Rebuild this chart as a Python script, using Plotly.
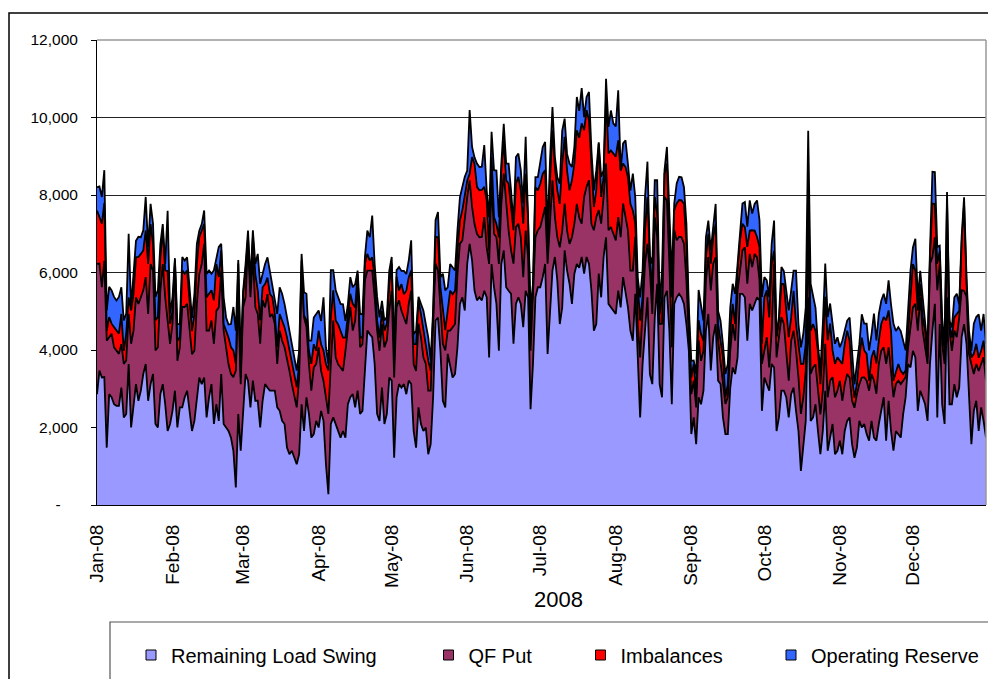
import pandas as pd
import plotly.graph_objects as go

dates = pd.date_range("2008-01-01", "2008-12-31", freq="D")

remaining_load_swing = [
    2860, 3470, 3290, 3300, 1480, 2860, 2780, 2600, 2560, 2560,
    3030, 2260, 2350, 3640, 2000, 2520, 3120, 2690, 2950, 3380,
    3640, 2690, 3120, 3380, 2090, 2000, 2860, 3120, 2600, 1910,
    2090, 2430, 2950, 2000, 2520, 2520, 2780, 2950, 2350, 1910,
    2170, 2780, 3290, 3120, 3290, 2260, 2780, 3120, 2090, 2600,
    2170, 3380, 2090, 2000, 1910, 1740, 1400, 450, 2350, 1400,
    2260, 3380, 3210, 2520, 3210, 2690, 2690, 2000, 2690, 3120,
    3030, 2950, 2950, 2950, 2520, 2430, 2170, 2090, 1480, 1310,
    1400, 1220, 1050, 1310, 2600, 1910, 2780, 2350, 1740, 1830,
    2170, 2000, 2430, 2170, 1050, 280, 2090, 2260, 2090, 1910,
    1740, 1910, 1740, 2600, 2780, 2860, 2520, 2950, 2350, 2430,
    3640, 4500, 4410, 4330, 3640, 2350, 2170, 3030, 2090, 2350,
    3290, 3210, 1220, 2780, 3120, 3030, 3120, 2860, 3210, 3120,
    1910, 1480, 2520, 2090, 1910, 2000, 1310, 1570, 2780, 4760,
    4840, 3980, 2690, 2520, 3900, 3550, 3290, 3380, 4070, 5190,
    5360, 5020, 6220, 6740, 6310, 5530, 5280, 5360, 5280, 5530,
    5360, 3810, 6220, 5620, 5190, 3980, 6220, 6570, 5620, 5530,
    5450, 4160, 5190, 5360, 5190, 4590, 5530, 5360, 2470, 3640,
    5360, 5620, 5620, 5880, 6220, 3900, 5020, 6050, 6400, 5790,
    4670, 5100, 6570, 6050, 5710, 5190, 5970, 6220, 6120, 6400,
    5970, 6400, 6220, 5530, 4500, 4670, 5970, 5360, 6400, 6910,
    5190, 5100, 5020, 4930, 5530, 5100, 5880, 5530, 5100, 4500,
    4240, 5450, 3640, 2260, 3640, 4500, 5360, 3380, 3120, 4840,
    5710, 3120, 2780, 5360, 5530, 4500, 2600, 5190, 5360, 5450,
    5360, 5190, 4670, 3980, 1830, 2260, 1570, 2780, 2600, 2950,
    4500, 4930, 3470, 4330, 4670, 3210, 3120, 2260, 1830, 1830,
    3030, 3550, 3380, 3810, 5450, 5450, 5360, 4240, 5190, 5020,
    5190, 5360, 5280, 2430, 3290, 3120, 2950, 3640, 3550, 1910,
    2260, 2950, 2950, 2780, 2260, 2860, 3030, 2430, 1910, 880,
    1570, 2170, 5360, 2170, 2260, 2600, 1910, 1310, 1910, 2950,
    1400, 1740, 2090, 1310, 1400, 1660, 1310, 1910, 2170, 2260,
    1570, 1220, 1480, 2170, 2000, 2090, 1830, 1660, 2170, 1740,
    1660, 2090, 2430, 2780, 1660, 2690, 1910, 1400, 1910, 1830,
    1740, 2350, 2780, 3640, 3550, 3980, 3810, 2430, 2950, 2780,
    2600, 2170, 3640, 4500, 5190, 2260, 4670, 2600, 2090, 5360,
    2600, 2600, 3120, 2780, 3030, 4330, 4670, 4160, 2690, 1570,
    2430, 2690, 1910, 2520, 2170, 1740,
]

qf_put = [
    3360, 2760, 2330, 3000, 2760, 1470, 1640, 1470, 1420, 1340,
    1120, 1380, 1380, 1290, 2160, 1980, 2240, 2500, 2410, 2160,
    2240, 2240, 3100, 2670, 1900, 2070, 2670, 3100, 2760, 2840,
    2070, 2240, 3280, 1720, 1550, 2590, 2330, 2240, 2240, 1980,
    1810, 2410, 2670, 3100, 3450, 2240, 1720, 1640, 2070, 2410,
    2930, 2670, 2410, 2070, 1720, 1640, 1900, 3020, 3020, 1720,
    2840, 1980, 3530, 2840, 3190, 2410, 2240, 2160, 2590, 1980,
    2410, 1900, 1980, 1720, 1120, 2070, 2070, 1980, 2330, 2160,
    1720, 1550, 1470, 1980, 3450, 2930, 1810, 1290, 1210, 1720,
    1470, 2070, 1030, 1030, 1720, 2070, 1550, 2500, 1720, 1720,
    1810, 1550, 2240, 1900, 2330, 1640, 2240, 2840, 1720, 1720,
    2160, 1550, 1640, 1720, 1720, 2160, 1810, 1640, 1980, 1900,
    1720, 2330, 2070, 2330, 2160, 1980, 1720, 1810, 1980, 2410,
    1720, 1980, 2160, 2240, 1900, 1640, 1640, 1380, 1900, 1470,
    1210, 1210, 1470, 1470, 600, 950, 1290, 1290, 1900, 1550,
    1470, 2410, 1720, 1640, 1380, 1720, 1720, 1550, 1640, 1900,
    1290, 2410, 2160, 1380, 1720, 2240, 1550, 1980, 2160, 1550,
    1120, 2070, 1980, 1900, 1720, 1290, 1550, 1030, 1510, 1720,
    1550, 1470, 1550, 1550, 1470, 2330, 2410, 2330, 1030, 1120,
    1980, 1980, 1210, 1030, 1030, 1720, 1290, 1550, 1290, 860,
    1980, 1810, 2160, 1720, 2590, 2760, 1640, 1900, 1550, 1900,
    1900, 2070, 1980, 1900, 1900, 1810, 1900, 1900, 1980, 1550,
    1810, 1470, 1030, 1550, 1290, 1720, 1380, 2670, 1810, 2590,
    1210, 1550, 1900, 2590, 2330, 1720, 1470, 1900, 1470, 1470,
    1550, 1550, 1120, 520, 1030, 950, 950, 1470, 1120, 1030,
    1290, 1470, 2070, 1900, 1720, 1030, 600, 950, 780, 950,
    950, 1120, 860, 1720, 600, 1120, 1290, 1470, 1290, 1120,
    1290, 1030, 520, 1210, 690, 1210, 600, 860, 2670, 1900,
    2070, 1900, 1720, 1210, 950, 1380, 1470, 1550, 1380, 1470,
    1210, 1290, 1720, 1210, 1290, 1030, 1030, 1030, 1030, 1210,
    1380, 1470, 1210, 1470, 1550, 1550, 1380, 1210, 1210, 1030,
    1120, 1290, 1380, 950, 1290, 1210, 1380, 1290, 1210, 1470,
    1210, 1550, 1550, 1290, 1980, 1380, 1550, 1380, 1210, 1380,
    1380, 860, 520, 430, 1030, 1120, 1380, 2070, 2410, 1720,
    1470, 1470, 2590, 1900, 1720, 3280, 1550, 1550, 1550, 1550,
    1900, 1380, 1380, 1550, 1810, 1210, 860, 1210, 1210, 2070,
    950, 950, 1550, 1120, 1640, 1470,
]

imbalances = [
    1380, 1210, 1640, 1500, 260, 520, 260, 520, 520, 520,
    780, 340, 690, 430, 860, 950, 1030, 1210, 1120, 1030,
    1210, 1290, 1030, 690, 780, 780, 860, 860, 690, 1290,
    520, 340, 90, 520, 260, 950, 860, 860, 690, 600,
    950, 1030, 950, 860, 520, 860, 950, 780, 1120, 1210,
    780, 520, 170, 430, 690, 690, 690, 170, 860, 170,
    340, 690, 170, 260, 520, 860, 600, 600, 340, 600,
    430, 600, 430, 260, 430, 430, 520, 520, 520, 520,
    600, 520, 520, 340, 260, 50, 170, 340, 690, 600,
    340, 430, 690, 780, 860, 1120, 1210, 780, 950, 1030,
    950, 860, 340, 340, 340, 690, 340, 170, 260, 170,
    430, 430, 260, 340, 520, 260, 340, 340, 430, 430,
    690, 690, 520, 780, 260, 690, 600, 860, 690, 520,
    520, 690, 600, 600, 690, 430, 780, 520, 170, 690,
    860, 430, 950, 520, 520, 1030, 860, 860, 600, 600,
    780, 520, 430, 170, 1290, 1550, 1210, 1210, 1210, 780,
    1210, 340, 600, 430, 340, 690, 860, 860, 600, 1210,
    1120, 860, 1120, 1210, 1210, 1380, 1470, 1030, 690, 170,
    1290, 1030, 1120, 1120, 950, 520, 950, 1290, 1290, 1210,
    1120, 1720, 1720, 1550, 1380, 1470, 1550, 1900, 2070, 2590,
    1720, 1980, 1550, 1640, 600, 690, 1720, 690, 520, 1720,
    1980, 1980, 2070, 2160, 1980, 1720, 1030, 1290, 1380, 1720,
    1550, 340, 1030, 950, 430, 860, 1210, 340, 600, 520,
    600, 260, 690, 600, 950, 860, 1290, 520, 950, 950,
    950, 1030, 950, 340, 430, 430, 340, 520, 690, 260,
    600, 600, 690, 690, 860, 430, 520, 600, 170, 340,
    520, 520, 430, 520, 780, 690, 520, 950, 600, 950,
    600, 520, 860, 520, 1380, 1210, 1290, 1720, 340, 520,
    430, 860, 1030, 950, 1120, 600, 1030, 690, 860, 1290,
    860, 690, 1290, 1120, 1120, 860, 1030, 780, 1120, 1210,
    1470, 1470, 690, 860, 860, 520, 950, 1030, 1120, 950,
    600, 260, 260, 690, 1030, 690, 690, 260, 430, 780,
    780, 600, 690, 780, 1120, 950, 1030, 430, 340, 430,
    340, 170, 170, 430, 780, 1120, 860, 520, 340, 340,
    430, 170, 170, 1380, 860, 690, 340, 340, 340, 950,
    170, 340, 340, 600, 170, 1210, 2240, 340, 340, 170,
    520, 520, 340, 340, 430, 430,
]

operating_reserve = [
    600, 780, 690, 840, 520, 780, 860, 780, 780, 950,
    690, 780, 520, 1640, 90, 430, 430, 520, 430, 520,
    860, 430, 520, 520, 600, 690, 340, 170, 170, 1550,
    260, 340, 50, 430, 340, 340, 340, 340, 340, 340,
    520, 520, 170, 170, 340, 600, 600, 430, 780, 170,
    780, 170, 690, 340, 340, 600, 1120, 860, 90, 520,
    90, 170, 170, 170, 170, 260, 950, 950, 340, 520,
    520, 600, 340, 430, 860, 690, 690, 600, 520, 520,
    430, 520, 430, 340, 170, 600, 690, 260, 600, 690,
    950, 520, 600, 1380, 430, 170, 1210, 520, 780, 690,
    690, 860, 430, 340, 430, 430, 600, 90, 600, 600,
    170, 600, 600, 1080, 340, 600, 520, 260, 260, 170,
    340, 170, 170, 170, 600, 340, 600, 430, 430, 780,
    260, 340, 90, 260, 520, 600, 600, 260, 170, 430,
    650, 260, 860, 1030, 600, 690, 690, 520, 520, 600,
    600, 520, 260, 1640, 260, 170, 600, 600, 600, 1080,
    260, 860, 650, 1210, 1380, 520, 170, 430, 430, 520,
    430, 170, 690, 600, 520, 520, 950, 170, 430, 170,
    260, 340, 520, 690, 730, 340, 520, 600, 260, 340,
    520, 860, 470, 430, 690, 340, 430, 860, 690, 910,
    340, 340, 730, 260, 430, 520, 30, 520, 170, 470,
    690, 1030, 780, 780, 1290, 30, 520, 690, 340, 340,
    950, 690, 170, 600, 690, 860, 910, 50, 690, 430,
    860, 260, 690, 90, 430, 340, 520, 170, 520, 600,
    600, 430, 520, 260, 430, 90, 520, 780, 780, 520,
    520, 340, 340, 260, 520, 340, 520, 340, 600, 520,
    600, 520, 780, 170, 260, 520, 650, 520, 780, 430,
    690, 950, 690, 1210, 520, 260, 520, 520, 780, 30,
    90, 430, 340, 600, 690, 690, 520, 1380, 520, 430,
    780, 950, 1290, 1210, 690, 600, 170, 340, 600, 860,
    600, 520, 690, 520, 520, 340, 600, 340, 260, 600,
    690, 340, 520, 340, 600, 690, 780, 780, 600, 950,
    600, 690, 600, 600, 430, 780, 690, 1470, 1030, 950,
    1030, 860, 520, 520, 690, 430, 820, 340, 340, 520,
    170, 260, 170, 820, 820, 430, 130, 340, 170, 220,
    90, 260, 520, 520, 170, 170, 170, 170, 260, 170,
    780, 690, 1120, 520, 690, 520,
]

series_names = ["Remaining Load Swing", "QF Put", "Imbalances", "Operating Reserve"]
series_colors = ["#9999FF", "#993366", "#FF0000", "#3366FF"]
series_values = [remaining_load_swing, qf_put, imbalances, operating_reserve]

month_ticks = pd.date_range("2008-01-01", "2008-12-01", freq="MS")
y_tickvals = [0, 2000, 4000, 6000, 8000, 10000, 12000]
y_ticktext = ["-\u00a0\u00a0\u00a0\u00a0", "2,000", "4,000", "6,000", "8,000", "10,000", "12,000"]
x_axis_title = "2008"

FONT = "Arial, Liberation Sans, sans-serif"

# page offset of the browser body margin
OFF = 8
W, H = 996, 679
# plot area in page (screenshot) pixels
PL, PR, PT, PB = 97, 986, 40, 505
ml, mr, mt, mb = PL - OFF, W - (PR - OFF), PT - OFF, H - (PB - OFF)
pw, ph = PR - PL, PB - PT


def px(x):
    return (x - PL) / pw


def py(y):
    return (PB - y) / ph


legend_icon_centers = [148, 445.5, 597.5, 788]
legend_ids = ["legend", "legend2", "legend3", "legend4"]

fig = go.Figure()
for name, color, vals in zip(series_names, series_colors, series_values):
    fig.add_trace(go.Scatter(
        x=dates, y=vals, name=name, mode="lines", stackgroup="one",
        line=dict(color="black", width=1.8), fillcolor=color, showlegend=False,
    ))

# legend entries (square swatches like the original)
for name, color, lid in zip(series_names, series_colors, legend_ids):
    fig.add_trace(go.Scatter(
        x=[None], y=[None], name=name, mode="markers", legend=lid,
        marker=dict(symbol="square", size=10, color=color,
                    line=dict(color="black", width=1)),
        showlegend=True,
    ))

legend_common = dict(
    orientation="h", xanchor="left", yanchor="middle",
    font=dict(size=20, family=FONT, color="black"), bgcolor="rgba(0,0,0,0)",
    itemwidth=30, borderwidth=0,
)
legend_layout = {}
for lid, cx in zip(legend_ids, legend_icon_centers):
    legend_layout[lid] = dict(legend_common, x=px(cx - 17), y=py(655))

fig.update_layout(
    width=W, height=H,
    margin=dict(l=ml, r=mr, t=mt, b=mb, autoexpand=False),
    paper_bgcolor="white", plot_bgcolor="white",
    font=dict(family=FONT, color="black"),
    showlegend=True,
    xaxis=dict(
        range=[dates[0], dates[-1]], tickvals=month_ticks, tickformat="%b-%y",
        tickangle=-90, ticks="", showgrid=False, showline=True, linecolor="black",
        linewidth=1, tickfont=dict(size=19, family=FONT), ticklabelstandoff=11,
        zeroline=False,
    ),
    yaxis=dict(
        range=[0, 12000], tickvals=y_tickvals, ticktext=y_ticktext,
        ticks="outside", ticklen=5, tickcolor="black", showline=True,
        linecolor="black", linewidth=1, showgrid=True, gridcolor="#222222",
        gridwidth=1, tickfont=dict(size=15.5, family=FONT), ticklabelstandoff=10,
        zeroline=False,
    ),
    annotations=[
        dict(text=x_axis_title, xref="paper", yref="paper", x=px(558), y=py(599),
             xanchor="center", yanchor="middle", showarrow=False,
             font=dict(size=22, family=FONT, color="black")),
    ],
    shapes=[
        dict(type="line", xref="paper", yref="paper", x0=1, x1=1, y0=0, y1=1,
             line=dict(color="#999999", width=1.5)),
        dict(type="line", xref="paper", yref="paper", x0=0, x1=1, y0=1, y1=1,
             line=dict(color="#999999", width=1.5)),
        dict(type="rect", xref="paper", yref="paper", x0=px(110), x1=px(1020),
             y0=py(720), y1=py(622), line=dict(color="#555555", width=1.2),
             layer="below"),
        dict(type="rect", xref="paper", yref="paper", x0=px(9), x1=px(1020),
             y0=py(720), y1=py(13), line=dict(color="black", width=1.5),
             layer="below"),
    ],
    **legend_layout,
)

fig.write_html("out.html")
